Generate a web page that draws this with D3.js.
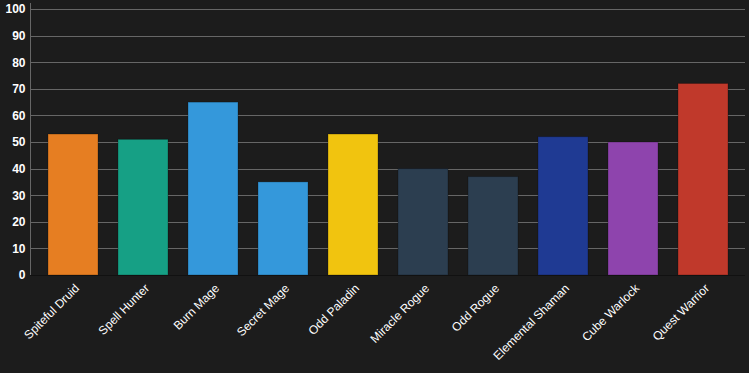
<!DOCTYPE html>
<html>
<head>
<meta charset="utf-8">
<script src="https://cdn.jsdelivr.net/npm/d3@7"></script>
<style>
  body { margin: 0; background: #1c1c1c; }
  svg { display: block; font-family: Arial, "Liberation Sans", sans-serif; }
</style>
</head>
<body>
<div id="chart"></div>
<script>
const decks = ["Spiteful Druid", "Spell Hunter", "Burn Mage", "Secret Mage", "Odd Paladin",
  "Miracle Rogue", "Odd Rogue", "Elemental Shaman", "Cube Warlock", "Quest Warrior"];
const winRates = [53, 51, 65, 35, 53, 40, 37, 52, 50, 72];
const barColors = ["#e67e22", "#16a085", "#3498db", "#3498db", "#f1c40f",
  "#2c3e50", "#2c3e50", "#1f3a93", "#8e44ad", "#c0392b"];
const yTicks = [0, 10, 20, 30, 40, 50, 60, 70, 80, 90, 100];

const width = 749, height = 373;

const svg = d3.select("#chart")
  .append("svg")
  .attr("width", width)
  .attr("height", height)
  .style("background-color", "#1c1c1c");

const x = d3.scaleBand()
  .domain(decks)
  .range([38, 738])
  .paddingInner(20 / 70)
  .paddingOuter(10 / 70);

const y = d3.scaleLinear()
  .domain([0, 100])
  .range([275, 9]);

// gridlines
svg.append("g")
  .selectAll("line")
  .data(yTicks.slice(1))
  .enter()
  .append("line")
  .attr("x1", 30)
  .attr("x2", 745)
  .attr("y1", d => Math.round(y(d)) + 0.5)
  .attr("y2", d => Math.round(y(d)) + 0.5)
  .attr("stroke", "#666")
  .attr("stroke-width", 1);

// y axis
const yAxis = svg.append("g")
  .attr("transform", "translate(30.5,0)")
  .call(d3.axisLeft(y).tickValues(yTicks).tickSize(0).tickPadding(5));
yAxis.select(".domain").remove();
yAxis.selectAll("text")
  .attr("fill", "#fff")
  .style("font-size", "12px")
  .style("font-weight", "bold");

svg.append("line")
  .attr("x1", 30.5).attr("x2", 30.5)
  .attr("y1", 3).attr("y2", 275)
  .attr("stroke", "#666");

// bars
svg.append("g")
  .selectAll("rect")
  .data(decks)
  .enter()
  .append("rect")
  .attr("x", d => x(d))
  .attr("y", (d, i) => y(winRates[i]))
  .attr("width", x.bandwidth())
  .attr("height", (d, i) => y(0) - y(winRates[i]))
  .attr("fill", (d, i) => barColors[i])
  .attr("stroke", "rgba(0,0,0,0.25)")
  .attr("stroke-width", 1);

// x axis baseline
svg.append("line")
  .attr("x1", 30).attr("x2", 745)
  .attr("y1", 275.5).attr("y2", 275.5)
  .attr("stroke", "#111");

// x labels
svg.append("g")
  .selectAll("text")
  .data(decks)
  .enter()
  .append("text")
  .attr("transform", d => `translate(${x(d) + x.bandwidth() / 2 + 4},${286}) rotate(-45)`)
  .attr("text-anchor", "end")
  .attr("dy", "0.35em")
  .attr("fill", "#fff")
  .style("font-size", "12px")
  .text(d => d);
</script>
</body>
</html>
